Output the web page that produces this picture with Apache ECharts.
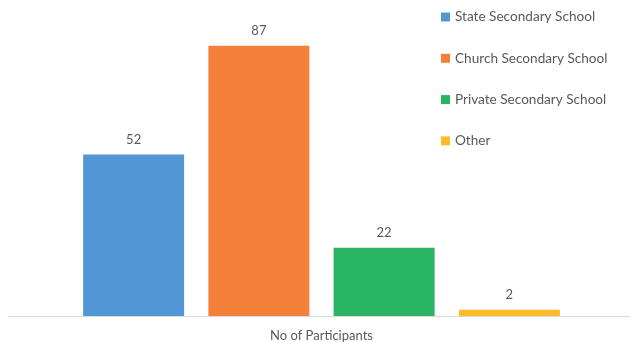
<!DOCTYPE html>
<html>
<head>
<meta charset="utf-8">
<script src="https://cdn.jsdelivr.net/npm/echarts@6/dist/echarts.min.js"></script>
<style>
  html, body { margin: 0; padding: 0; background: #ffffff; overflow: hidden; }
  #chart { width: 635px; height: 342px; }
</style>
</head>
<body>
<div id="chart"></div>
<script>
// Participants by school type
const categories = ['No of Participants'];
const seriesNames = ['State Secondary School', 'Church Secondary School', 'Private Secondary School', 'Other'];
const stateValues = [52];
const churchValues = [87];
const privateValues = [22];
const otherValues = [2];
const colors = ['#5296d5', '#f4803a', '#28b463', '#fdbb2a'];

const valueSets = [stateValues, churchValues, privateValues, otherValues];
const textColor = '#595959';
const fontFamily = 'Lato, "Open Sans", sans-serif';

const chart = echarts.init(document.getElementById('chart'));
chart.setOption({
  animation: false,
  color: colors,
  textStyle: { fontFamily: fontFamily },
  grid: { left: 8, right: 0, top: 5.4, bottom: 24, containLabel: false },
  legend: {
    orient: 'vertical',
    left: 436,
    top: 5,
    itemWidth: 9,
    itemHeight: 9,
    itemGap: 27.3,
    icon: 'rect',
    textStyle: { color: textColor, fontSize: 13.6, fontFamily: fontFamily },
    data: seriesNames
  },
  xAxis: {
    type: 'category',
    data: categories,
    axisLine: { lineStyle: { color: '#d9d9d9', width: 1 } },
    axisTick: { show: false },
    axisLabel: { color: textColor, fontSize: 13, fontFamily: fontFamily, margin: 13 }
  },
  yAxis: {
    type: 'value',
    min: 0,
    max: 100,
    show: false,
    splitLine: { show: false }
  },
  series: seriesNames.map((name, i) => ({
    name: name,
    type: 'bar',
    data: valueSets[i],
    barWidth: 101,
    barGap: '24%',
    label: {
      show: true,
      position: 'top',
      distance: 8,
      color: textColor,
      fontSize: 13,
      fontFamily: fontFamily
    }
  }))
});
</script>
</body>
</html>
